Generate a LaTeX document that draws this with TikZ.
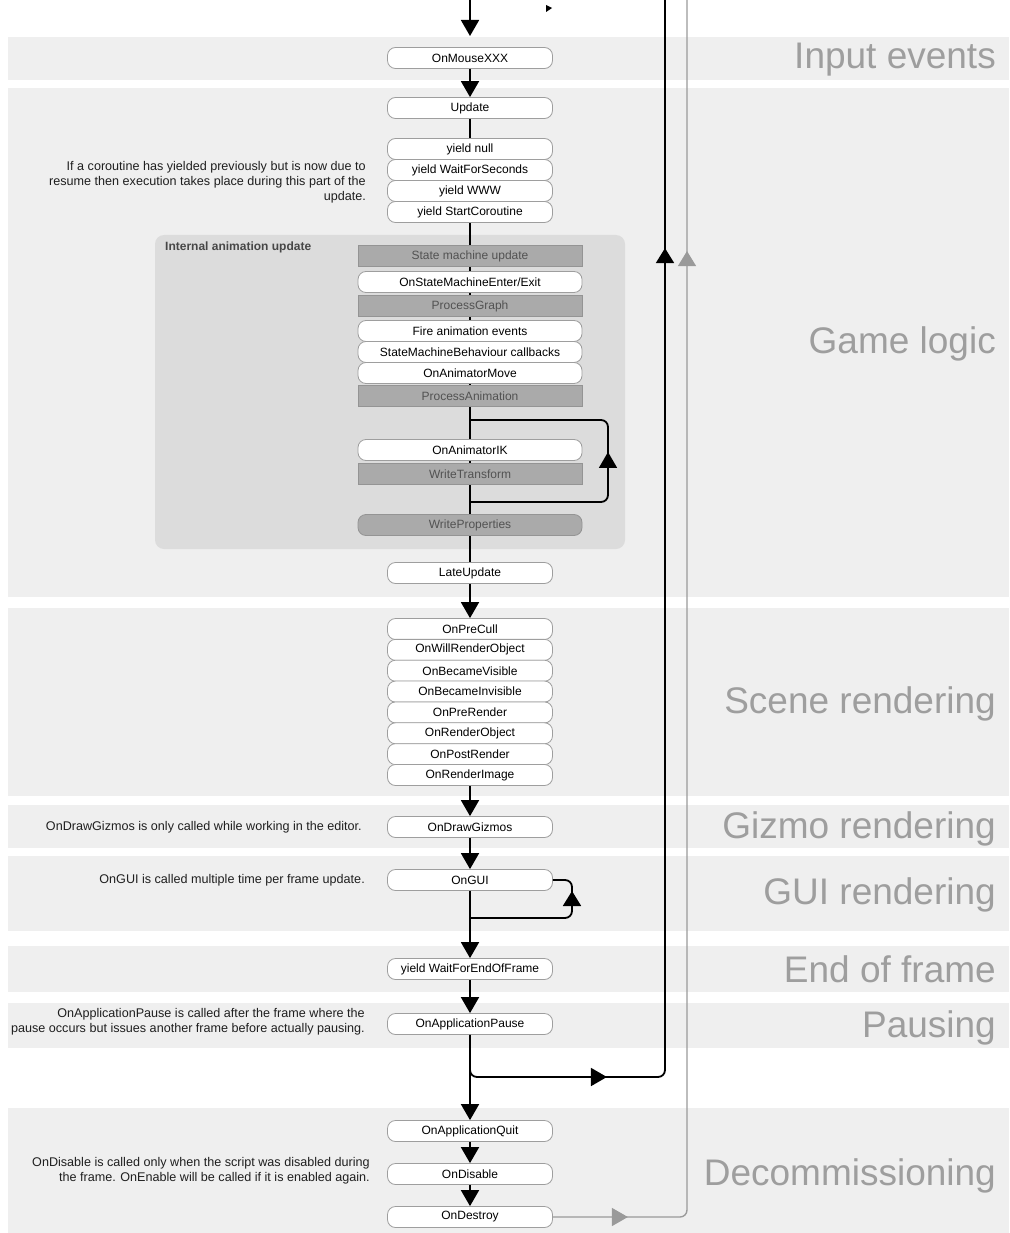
\documentclass[tikz,border=0pt]{standalone}
\usepackage{fontspec}
\setmainfont{Liberation Sans}
\usetikzlibrary{arrows.meta,decorations.markings,backgrounds}
\definecolor{band}{HTML}{EFEFEF}
\definecolor{panelgray}{HTML}{DCDCDC}
\definecolor{procfill}{HTML}{AAAAAA}
\definecolor{phasegray}{HTML}{9E9E9E}
\definecolor{backline}{HTML}{9A9A9A}
\begin{document}
\begin{tikzpicture}[x=1pt,y=-1pt,font=\fontsize{12}{14}\selectfont,
 cb/.style={draw=black!38,fill=white,rounded corners=8pt,minimum width=165pt,minimum height=21pt,inner sep=0pt,line width=0.8pt},
 ib/.style={cb,minimum width=224pt},
 pb/.style={ib,rounded corners=0pt,fill=procfill,draw=black!42,text=black!68},
 wire/.style={line width=1.8pt},
 flow/.style={wire,-{Triangle[width=18pt,length=16pt]}},
 note/.style={align=right,anchor=east,inner sep=0pt,text=black!88,font=\fontsize{12.6}{15}\selectfont},
 phase/.style={anchor=base east,inner sep=0pt,text=phasegray,font=\fontsize{37}{40}\selectfont}]
\useasboundingbox (0,0) rectangle (1009,1233);
\node[cb] (mouse) at (470,58) {OnMouseXXX};
\node[cb] (upd) at (470,108) {Update};
\foreach \t [count=\i] in {yield null,yield WaitForSeconds,yield WWW,yield StartCoroutine}
  \node[cb] (y\i) at (470,{128+\i*21}) {\t};
\node[pb] (smu) at (470,256) {State machine update};
\node[ib] (enter) at (470,282) {OnStateMachineEnter/Exit};
\node[pb] (pgraph) at (470,306) {ProcessGraph};
\node[ib] (fire) at (470,331) {Fire animation events};
\node[ib] (smb) at (470,352) {StateMachineBehaviour callbacks};
\node[ib] (move) at (470,373) {OnAnimatorMove};
\node[pb] (panim) at (470,396) {ProcessAnimation};
\node[ib] (ik) at (470,450) {OnAnimatorIK};
\node[pb] (wtr) at (470,474) {WriteTransform};
\node[pb,rounded corners=8pt] (wprop) at (470,525) {WriteProperties};
\node[anchor=base west,inner sep=0pt,text=black!72,font=\bfseries\fontsize{12}{14}\selectfont] (anim) at (165,251) {Internal animation update};
\node[cb] (late) at (470,573) {LateUpdate};
\foreach \t [count=\i] in {OnPreCull,OnWillRenderObject,OnBecameVisible,OnBecameInvisible,OnPreRender,OnRenderObject,OnPostRender,OnRenderImage}
  \node[cb] (sc\i) at (470,{608.14+\i*20.86}) {\t};
\node[cb] (gizmo) at (470,827) {OnDrawGizmos};
\node[cb] (gui) at (470,880) {OnGUI};
\node[cb] (eof) at (470,969) {yield WaitForEndOfFrame};
\node[cb] (pause) at (470,1024) {OnApplicationPause};
\node[cb] (quit) at (470,1131) {OnApplicationQuit};
\node[cb] (disable) at (470,1174) {OnDisable};
\node[cb] (destroy) at (470,1217) {OnDestroy};
\node[note] (coro) at (366,182) {If a coroutine has yielded previously but is now due to\\resume then execution takes place during this part of the\\update.};
\node[note] (gzn) at (362,827) {OnDrawGizmos is only called while working in the editor.};
\node[note] (guin) at (365,880) {OnGUI is called multiple time per frame update.};
\node[note] (pausen) at (365,1022) {OnApplicationPause is called after the frame where the\\pause occurs but issues another frame before actually pausing.};
\node[note] (disn) at (370,1171) {OnDisable is called only when the script was disabled during\\the frame. OnEnable will be called if it is enabled again.};
\node[phase] (p1) at (996,69) {Input events};
\node[phase] (p2) at (996,353) {Game logic};
\node[phase] (p3) at (996,713) {Scene rendering};
\node[phase] (p4) at (996,838) {Gizmo rendering};
\node[phase] (p5) at (996,904) {GUI rendering};
\node[phase] (p6) at (996,982) {End of frame};
\node[phase] (p7) at (996,1037) {Pausing};
\node[phase] (p8) at (996,1185) {Decommissioning};
\coordinate (topin) at (470,0);
\coordinate (topend) at (470,36);
\coordinate (bend) at (665,1077);
\coordinate (rtop) at (665,0);
\coordinate (gbend) at (687,1217);
\coordinate (gtop) at (687,0);
\coordinate (ikin) at (470,420);
\coordinate (ikout) at (470,502);
\coordinate (guiout) at (470,918);
\begin{scope}[on background layer]
\foreach \a/\b in {37/80,88/597,608/796,805/848,856/931,946/992,1003/1048,1108/1233}
  \fill[band] (8,\a) rectangle (1009,\b);
\fill[panelgray,rounded corners=9pt] (155,235) rectangle (625,549);
\draw[wire] (y4.south) -- (late.north);
\end{scope}
\draw[flow] (topin) -- (topend);
\fill (546,5) -- (552,8) -- (546,12) -- cycle;
\draw[flow] (mouse) -- (upd);
\draw[wire] (upd) -- (y1);
\draw[wire,rounded corners=7pt,postaction={decorate},decoration={markings,mark=at position 185pt with {\arrow{Triangle[width=18pt,length=16pt]}}}] (ikout) -- (608,502) -- (608,420) -- (ikin);
\draw[flow] (late) -- (sc1);
\draw[flow] (sc8) -- (gizmo);
\draw[flow] (gizmo) -- (gui);
\draw[wire,rounded corners=7pt,postaction={decorate},decoration={markings,mark=at position 126pt with {\arrow{Triangle[width=18pt,length=15pt]}}}] (guiout) -- (572,918) -- (572,880) -- (gui.east);
\draw[flow] (gui) -- (eof);
\draw[flow] (eof) -- (pause);
\draw[flow] (pause) -- (quit);
\draw[wire,rounded corners=7pt,postaction={decorate},decoration={markings,
  mark=at position 176pt with {\arrow{Triangle[width=18pt,length=16pt]}},
  mark=at position 1060pt with {\arrow{Triangle[width=18pt,length=15pt]}}}] (pause.south) |- (bend) -- (rtop);
\draw[flow] (quit) -- (disable);
\draw[flow] (disable) -- (destroy);
\draw[backline,line width=1.4pt,rounded corners=7pt,postaction={decorate},decoration={markings,
  mark=at position 75pt with {\arrow{Triangle[width=18pt,length=16pt]}},
  mark=at position 1097pt with {\arrow{Triangle[width=18pt,length=15pt]}}}] (destroy.east) -- (gbend) -- (gtop);
\end{tikzpicture}
\end{document}
